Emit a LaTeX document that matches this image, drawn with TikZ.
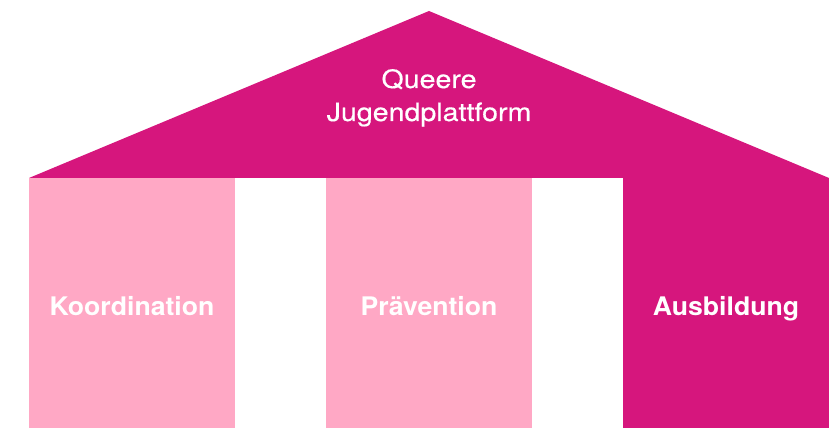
\documentclass[tikz,border=0pt]{standalone}
\usepackage{fontspec}
\setmainfont{TeX Gyre Heros}
\newfontfamily\roofont[FakeStretch=1.13,FakeBold=0.4]{TeX Gyre Heros}
\newfontfamily\colfont[FakeStretch=1.04]{TeX Gyre Heros}
\definecolor{magentaA}{RGB}{214,22,125}
\definecolor{pinkA}{RGB}{255,168,197}
\begin{document}
\begin{tikzpicture}[x=1pt,y=1pt,
  pillar/.style={inner sep=0pt, outer sep=0pt, minimum width=206pt, minimum height=250pt, anchor=south west},
  coltext/.style={text=white, font=\colfont\bfseries\fontsize{25.6}{30}\selectfont, anchor=base, inner sep=0pt},
  rooftext/.style={text=white, font=\roofont\fontsize{25.3}{33}\selectfont, anchor=base, inner sep=0pt}]
\useasboundingbox (0,0) rectangle (840,428);
% roof
\fill[magentaA] (29,250) -- (429,417) -- (829,250) -- cycle;
% pillars
\node[pillar, fill=pinkA] (p1) at (29,0) {};
\node[pillar, fill=pinkA] (p2) at (326,0) {};
\node[pillar, fill=magentaA] (p3) at (623,0) {};
% texts
\node[rooftext] (t1) at (429,340) {Queere};
\node[rooftext] (t2) at (429,307) {Jugendplattform};
\node[coltext] (c1) at (p1.center |- 0,112) {Koordination};
\node[coltext] (c2) at (p2.center |- 0,112) {Prävention};
\node[coltext] (c3) at (p3.center |- 0,112) {Ausbildung};
\end{tikzpicture}
\end{document}
